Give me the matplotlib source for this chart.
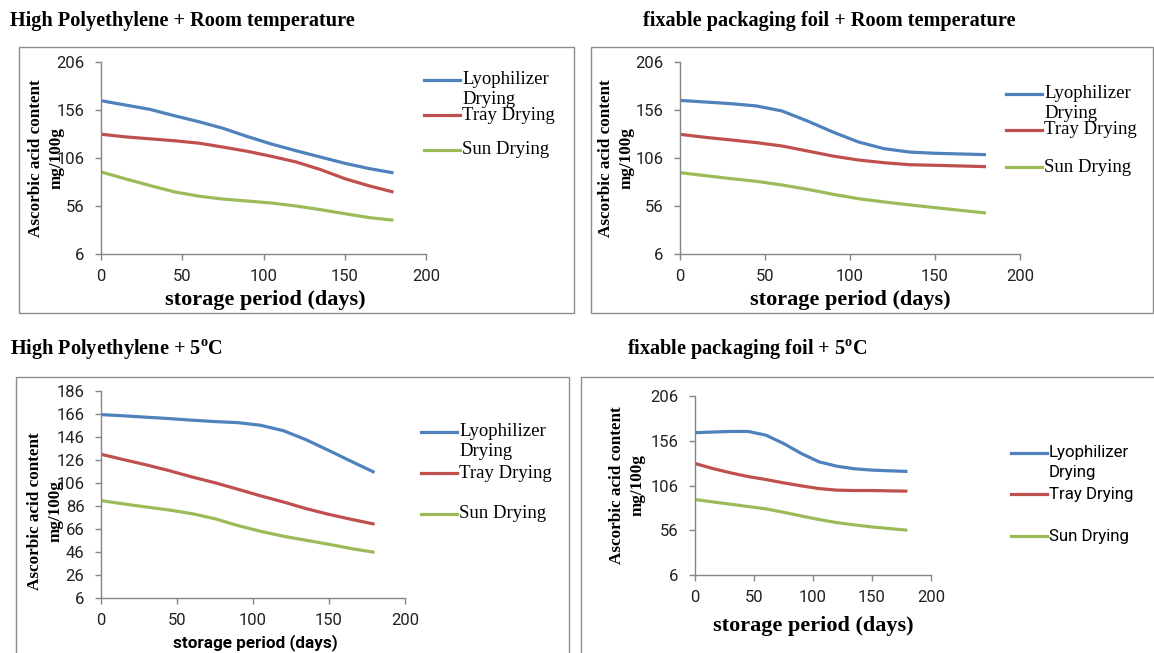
import numpy as np
import matplotlib.pyplot as plt
from matplotlib.patches import Rectangle
from matplotlib.lines import Line2D

plt.rcParams['mathtext.fontset'] = 'custom'
plt.rcParams['mathtext.bf'] = 'Liberation Serif:bold'
plt.rcParams['mathtext.rm'] = 'Liberation Serif:bold'

W, H = 1154, 653

# ---- data (every 15 days) ----
days = [0, 15, 30, 45, 60, 75, 90, 105, 120, 135, 150, 165, 180]
series_names = ['Lyophilizer\nDrying', 'Tray Drying', 'Sun Drying']
colors = ['#4F81BD', '#C0504D', '#9BBB59']

# High Polyethylene + room temperature
hp_room_lyo = [165.7, 161.2, 156.7, 150.1, 143.9, 137, 128.4, 120.5, 113.6, 107, 100.5, 95, 90.5]
hp_room_tray = [130.8, 128, 126, 124, 121.5, 117.4, 113, 107.7, 101.9, 94, 84.5, 77, 70.5]
hp_room_sun = [91.5, 84.3, 77.4, 70.8, 66.3, 63.2, 61.2, 59.1, 56, 52.2, 48, 43.9, 41.2]

# fixable packaging foil + room temperature
foil_room_lyo = [166, 164.3, 162.6, 160.2, 155, 144.5, 133, 122.7, 115.7, 112.2, 110.9, 110.2, 109.5]
foil_room_tray = [130.7, 127.5, 124.8, 122, 118.5, 113.3, 108, 103.9, 101.1, 99, 98.4, 97.7, 97]
foil_room_sun = [90.7, 87.6, 84.5, 81.7, 77.9, 73.4, 68.2, 63.6, 60.2, 57.2, 54.3, 51.5, 48.7]

# High Polyethylene + 5 C
hp_cold_lyo = [165.5, 164.4, 163.2, 162, 160.6, 159.4, 158.5, 156.2, 151.5, 143.6, 134.2, 124.6, 115.2]
hp_cold_tray = [131, 126.3, 121.7, 116.7, 111.2, 106.2, 100.6, 94.8, 89.5, 83.7, 78.7, 74.3, 70.2]
hp_cold_sun = [90.7, 87.8, 85.1, 82.5, 79.3, 74.9, 69, 64, 59.7, 56.2, 52.7, 48.9, 45.7]

# fixable packaging foil + 5 C
foil_cold_lyo = [165, 165.7, 166.4, 166.4, 162.3, 153, 141.8, 132.5, 127.6, 124.7, 123.2, 122.4, 121.7]
foil_cold_tray = [130.6, 125, 120.2, 116, 112.7, 109, 105.6, 102.6, 100.8, 100.4, 100.4, 100, 99.7]
foil_cold_sun = [90.3, 87.7, 85.1, 82.5, 79.9, 76.1, 72, 68, 64.6, 62, 59.7, 57.9, 56]

x_ticks = [0, 50, 100, 150, 200]
yticks_a = [6, 56, 106, 156, 206]
yticks_b = [6, 26, 46, 66, 86, 106, 126, 146, 166, 186]

SERIF = 'Liberation Serif'
SANS = 'Roboto'


def fx(px):
    return px / W


def fy(py):
    return 1 - py / H


fig = plt.figure(figsize=(W / 100, H / 100), dpi=100)


def panel(ax_px, box_px, data, yticks, title, title_xy, ylab_xy, xlab_xy,
          xlab_font, leg_x, leg_ys, leg_font):
    x0, y0, x1, y1 = box_px
    fig.add_artist(Rectangle((fx(x0), fy(y1)), fx(x1 - x0), (y1 - y0) / H,
                             transform=fig.transFigure, fill=False,
                             edgecolor='#8c8c8c', lw=1.0))
    l, t, r, b = ax_px
    ax = fig.add_axes([fx(l), fy(b), fx(r - l), (b - t) / H])
    for vals, c in zip(data, colors):
        ax.plot(days, vals, color=c, lw=2.3, solid_capstyle='butt',
                solid_joinstyle='round')
    ax.set_xlim(0, 200)
    ax.set_ylim(yticks[0], yticks[-1])
    ax.set_xticks(x_ticks)
    ax.set_yticks(yticks)
    for s in ['top', 'right']:
        ax.spines[s].set_visible(False)
    for s in ['left', 'bottom']:
        ax.spines[s].set_color('#868686')
        ax.spines[s].set_linewidth(1.0)
    ax.tick_params(axis='both', direction='out', length=4, width=1,
                   color='#868686', labelsize=12)
    ax.tick_params(axis='x', pad=7)
    ax.tick_params(axis='y', pad=8)
    for lab in ax.get_xticklabels() + ax.get_yticklabels():
        lab.set_fontfamily(SANS)
        lab.set_color('#222222')
    ax.patch.set_alpha(0)

    fig.text(fx(title_xy[0]), fy(title_xy[1]), title, family=SERIF,
             weight='bold', fontsize=14.6, ha='left', va='center')
    fig.text(fx(ylab_xy[0]), fy(ylab_xy[1]), 'Ascorbic acid content\nmg/100g',
             family=SERIF, weight='bold', fontsize=12.3, rotation=90,
             ha='center', va='center', linespacing=1.35, multialignment='center')
    fig.text(fx(xlab_xy[0]), fy(xlab_xy[1]), 'storage period (days)',
             family=xlab_font[0], weight='bold', fontsize=xlab_font[1],
             ha='center', va='center')

    fsize = 13.5 if leg_font == SERIF else 12.2
    for name, c, ly in zip(series_names, colors, leg_ys):
        fig.add_artist(Line2D([fx(leg_x), fx(leg_x + 36)], [fy(ly), fy(ly)],
                              transform=fig.transFigure, color=c, lw=2.3))
        first, *rest = name.split('\n')
        fig.text(fx(leg_x + 38), fy(ly), first, family=leg_font, fontsize=fsize,
                 ha='left', va='center')
        if rest:
            fig.text(fx(leg_x + 38), fy(ly + 20), rest[0], family=leg_font,
                     fontsize=fsize, ha='left', va='center')
    return ax


panel((101, 62, 426, 254), (19, 47, 574, 313),
      [hp_room_lyo, hp_room_tray, hp_room_sun], yticks_a,
      'High Polyethylene + Room temperature', (10, 21), (46, 158),
      (265, 300), (SERIF, 16), 424, [80, 115, 150], SERIF)

panel((680, 62, 1020, 254), (591, 47, 1153, 313),
      [foil_room_lyo, foil_room_tray, foil_room_sun], yticks_a,
      'fixable packaging foil + Room temperature', (643, 21), (616, 158),
      (850, 300), (SERIF, 16), 1006, [94, 130, 167], SERIF)

panel((101, 391, 405, 598), (16, 377, 569, 660),
      [hp_cold_lyo, hp_cold_tray, hp_cold_sun], yticks_b,
      r'High Polyethylene + 5$^{\mathbf{o}}$C', (10, 349), (45, 511),
      (255, 643), (SANS, 12.3), 421, [432, 473, 514], SERIF)

panel((695, 396, 931, 575), (581, 377, 1160, 660),
      [foil_cold_lyo, foil_cold_tray, foil_cold_sun], yticks_a,
      r'fixable packaging foil + 5$^{\mathbf{o}}$C', (627, 349), (627, 485),
      (813, 626), (SERIF, 16), 1011, [453, 494, 536], SANS)

plt.savefig('out.png', dpi=100)
